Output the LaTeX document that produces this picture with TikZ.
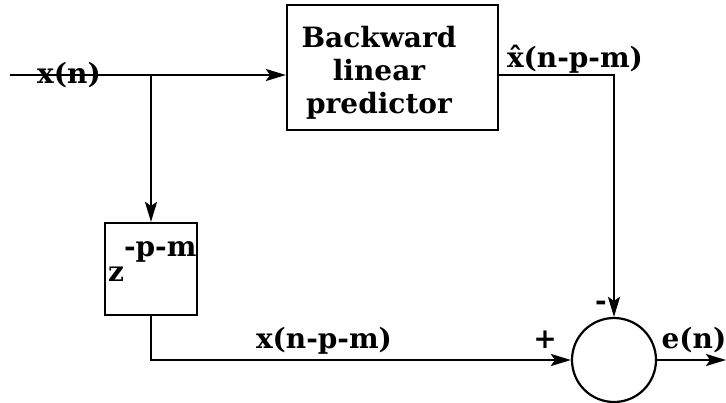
\documentclass[tikz,border=0pt]{standalone}
\usepackage{fontspec}
\setmainfont{DejaVu Serif}
\usetikzlibrary{arrows.meta}
\begin{document}
\begin{tikzpicture}[x=1pt,y=1pt,
  line width=2.2pt,
  font=\fontsize{28}{33}\selectfont\bfseries,
  arr/.style={-{Stealth[length=20pt,width=12pt,inset=4pt]}},
  blk/.style={draw,rectangle,inner sep=0pt},
  lbl/.style={anchor=base,inner sep=0pt}]
\useasboundingbox (0,0) rectangle (726,-402);
% blocks
\node[blk,minimum width=211pt,minimum height=125pt] (bp) at (392.5,-67.5) {};
\node[align=center,inner sep=0pt] (bptext) at (379,-73) {Backward\\linear\\predictor};
\node[blk,minimum width=92pt,minimum height=92pt] (zd) at (151,-269) {};
\node[anchor=base west,inner sep=0pt] (ztext) at (107,-281) {z\raisebox{25pt}{-p-m}};
\node[draw,circle,minimum size=84pt,inner sep=0pt] (sum) at (614,-360) {};
% coordinates
\coordinate (in) at (10,-75);
\coordinate (br) at (151,-75);
\coordinate (out) at (726,-360);
% connectors
\draw (in) -- (br);
\draw[arr] (br) -- (bp.west |- br);
\draw[arr] (br) -- (zd.north);
\draw[arr] (bp.east |- br) -| (sum.north);
\draw[arr] (zd.south) |- (sum.west);
\draw[arr] (sum.east) -- (out);
% labels
\node[lbl] (lx) at (69,-83) {x(n)};
\node[lbl] (lxh) at (575,-67) {\^{x}(n-p-m)};
\node[lbl] (lxd) at (324,-348) {x(n-p-m)};
\node[lbl] (lp) at (545,-348) {+};
\node[lbl] (lm) at (601,-310) {-};
\node[lbl] (le) at (694,-348) {e(n)};
\end{tikzpicture}
\end{document}
